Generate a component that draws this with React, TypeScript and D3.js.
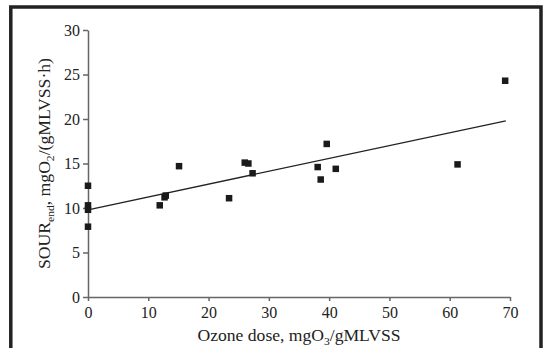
import React, { useEffect, useRef } from "react";
import * as d3 from "d3";

// ozone dose (mgO3/gMLVSS) and SOUR end values
const doseValues = [0, 0, 0, 0, 11.9, 12.7, 12.9, 15.1, 23.4, 26.0, 26.6, 27.3, 38.1, 38.6, 39.6, 41.1, 61.3, 69.2];
const sourValues = [12.5, 10.3, 9.8, 7.9, 10.3, 11.2, 11.4, 14.7, 11.1, 15.1, 15.0, 13.9, 14.6, 13.2, 17.2, 14.4, 14.9, 24.3];

// trend line end points
const trendX = [0, 69.3];
const trendY = [9.8, 19.8];

const xTicks = [0, 10, 20, 30, 40, 50, 60, 70];
const yTicks = [0, 5, 10, 15, 20, 25, 30];

const W = 543;
const H = 348;

export default function App() {
  const ref = useRef<SVGSVGElement>(null);

  useEffect(() => {
    const svg = d3.select(ref.current);
    svg.selectAll("*").remove();

    var margin = { top: 30, right: 33, bottom: 51, left: 88 },
      width = W - margin.left - margin.right,
      height = H - margin.top - margin.bottom;

    // outer frame
    svg
      .append("rect")
      .attr("x", 10.8)
      .attr("y", 7)
      .attr("width", 530.2)
      .attr("height", H + 20)
      .attr("fill", "none")
      .attr("stroke", "#222")
      .attr("stroke-width", 3.5);

    var g = svg.append("g").attr("transform", "translate(" + margin.left + "," + margin.top + ")");

    var x = d3.scaleLinear().domain([0, 70]).range([0, width]);
    var y = d3.scaleLinear().domain([0, 30]).range([height, 0]);

    var font = "'Liberation Serif', 'Times New Roman', serif";

    // X axis
    var xAxis = g
      .append("g")
      .attr("transform", "translate(0," + height + ")")
      .call(d3.axisBottom(x).tickValues(xTicks).tickSize(4).tickPadding(6).tickSizeOuter(0));
    // Y axis
    var yAxis = g
      .append("g")
      .call(d3.axisLeft(y).tickValues(yTicks).tickSize(5).tickPadding(3).tickSizeOuter(0));

    [xAxis, yAxis].forEach(function (a) {
      a.select(".domain").attr("stroke", "#666").attr("stroke-width", 1.5);
      a.selectAll(".tick line").attr("stroke", "#666").attr("stroke-width", 1.5);
      a.selectAll(".tick text")
        .attr("fill", "#222")
        .style("font-family", font)
        .style("font-size", "16px");
    });

    // trend line
    var line = d3
      .line<number>()
      .x(function (d, i) { return x(trendX[i]); })
      .y(function (d) { return y(d); });
    g.append("path")
      .datum(trendY)
      .attr("d", line)
      .attr("fill", "none")
      .attr("stroke", "#222")
      .attr("stroke-width", 1.3);

    // points
    var s = 6.5;
    g.selectAll("rect.pt")
      .data(doseValues)
      .enter()
      .append("rect")
      .attr("class", "pt")
      .attr("x", function (d) { return x(d) - s / 2; })
      .attr("y", function (d, i) { return y(sourValues[i]) - s / 2; })
      .attr("width", s)
      .attr("height", s)
      .attr("fill", "#1a1a1a");

    // axis titles
    var xt = svg
      .append("text")
      .attr("x", margin.left + width / 2)
      .attr("y", 341)
      .attr("text-anchor", "middle")
      .attr("textLength", 203)
      .attr("lengthAdjust", "spacingAndGlyphs")
      .attr("fill", "#222")
      .style("font-family", font)
      .style("font-size", "16px");
    xt.append("tspan").text("Ozone dose, mgO");
    xt.append("tspan").attr("dy", 4).style("font-size", "10.5px").text("3");
    xt.append("tspan").attr("dy", -4).text("/gMLVSS");

    var yt = svg
      .append("text")
      .attr("transform", "translate(50," + (margin.top + height / 2) + ") rotate(-90)")
      .attr("text-anchor", "middle")
      .attr("textLength", 211)
      .attr("lengthAdjust", "spacingAndGlyphs")
      .attr("fill", "#222")
      .style("font-family", font)
      .style("font-size", "16px");
    yt.append("tspan").text("SOUR");
    yt.append("tspan").attr("dy", 4).style("font-size", "10.5px").text("end");
    yt.append("tspan").attr("dy", -4).text(", mgO");
    yt.append("tspan").attr("dy", 4).style("font-size", "10.5px").text("2");
    yt.append("tspan").attr("dy", -4).text("/(gMLVSS·h)");
  }, []);

  return (
    <svg
      ref={ref}
      width={W}
      height={H}
      style={{ position: "absolute", left: 0, top: 0, background: "#fff" }}
    />
  );
}
